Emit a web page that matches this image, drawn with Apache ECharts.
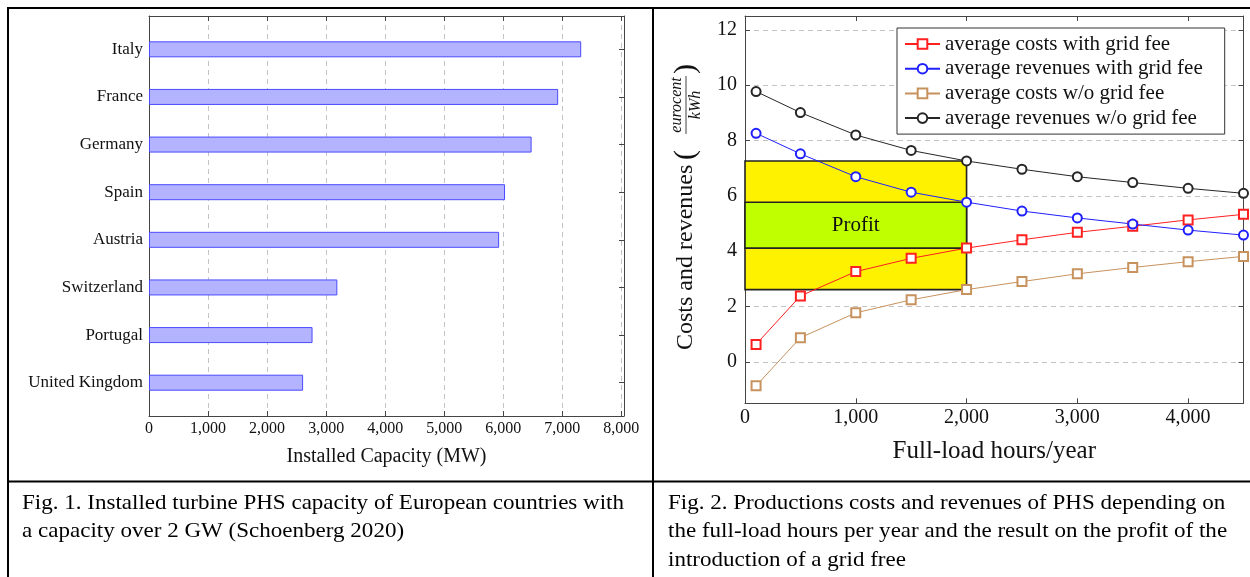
<!DOCTYPE html>
<html><head><meta charset="utf-8">
<script src="https://cdn.jsdelivr.net/npm/echarts@6/dist/echarts.min.js"></script>
<style>html,body{margin:0;padding:0;background:#fff}#c{width:1250px;height:577px}</style>
</head><body><div id="c"></div>
<script>
// ---- Fig. 1 data ----
const countries = ['Italy', 'France', 'Germany', 'Spain', 'Austria', 'Switzerland', 'Portugal', 'United Kingdom'];
const capacityMW = [7320, 6930, 6480, 6030, 5930, 3190, 2770, 2610];

// ---- Fig. 2 data ----
const hours = [100, 500, 1000, 1500, 2000, 2500, 3000, 3500, 4000, 4500];
const costsWithFee = [0.63, 2.38, 3.26, 3.74, 4.11, 4.41, 4.68, 4.90, 5.13, 5.33];
const revenuesWithFee = [8.26, 7.52, 6.69, 6.13, 5.77, 5.45, 5.20, 4.98, 4.76, 4.58];
const costsNoFee = [-0.87, 0.87, 1.77, 2.24, 2.61, 2.90, 3.18, 3.41, 3.62, 3.81];
const revenuesNoFee = [9.77, 9.01, 8.20, 7.64, 7.26, 6.96, 6.69, 6.48, 6.27, 6.09];
const seriesNames = ['average costs with grid fee', 'average revenues with grid fee', 'average costs w/o grid fee', 'average revenues w/o grid fee'];
const costTicks = [0, 2, 4, 6, 8, 10, 12];
const profitHours = 2000;
const profitLabel = 'Profit';

// ---- captions ----
const caption1 = ['Fig. 1. Installed turbine PHS capacity of European countries with', 'a capacity over 2 GW (Schoenberg 2020)'];
const caption2 = ['Fig. 2. Productions costs and revenues of PHS depending on', 'the full-load hours per year and the result on the profit of the', 'introduction of a grid free'];
const yTitle = 'Costs and revenues';
const yUnitNum = 'eurocent', yUnitDen = 'kWh';
const xTitle1 = 'Installed Capacity (MW)';
const xTitle2 = 'Full-load hours/year';

const SERIF = '"Liberation Serif", "Times New Roman", serif';
const frameColor = '#454545';
const fmt = v => Number(v).toLocaleString('en-US');
const pi = hours.indexOf(profitHours);

const chart = echarts.init(document.getElementById('c'), null, {renderer: 'canvas'});

const frameAxis = (extra) => Object.assign({
  axisLine: {show: true, onZero: false, lineStyle: {color: frameColor, width: 1}},
  axisTick: {show: false},
  axisLabel: {show: false},
  splitLine: {show: false}
}, extra);

const dashed = {show: true, lineStyle: {color: '#c4c4c4', width: 1, type: [5, 4]}};

function lineSeries(name, vals, color, symbol) {
  return {
    name, type: 'line', xAxisIndex: 3, yAxisIndex: 4, z: 3,
    data: hours.map((h, i) => [h, vals[i]]),
    symbol, symbolSize: 9, showAllSymbol: true,
    lineStyle: {color, width: 1},
    itemStyle: {color, borderColor: color, borderWidth: 1},
    emphasis: {disabled: true}
  };
}

const capFont = '21px ' + SERIF;
const capScale = 1.097;
const captionGraphics = [];
caption1.forEach((t, i) => captionGraphics.push({type: 'text', x: 22, y: 503 + i * 28, scaleX: capScale, style: {text: t, font: capFont, fill: '#000', verticalAlign: 'middle'}}));
caption2.forEach((t, i) => captionGraphics.push({type: 'text', x: 668, y: 503 + i * 28.5, scaleX: capScale, style: {text: t, font: capFont, fill: '#000', verticalAlign: 'middle'}}));

const option = {
  animation: false,
  backgroundColor: '#fff',
  textStyle: {fontFamily: SERIF},
  grid: [
    {left: 149, top: 16, width: 475, height: 400},
    {left: 149, top: 25.5, width: 475, height: 381},
    {left: 745, top: 16, width: 498.5, height: 387.3}
  ],
  xAxis: [
    frameAxis({gridIndex: 0, type: 'value', min: 0, max: 8045, interval: 1000, position: 'bottom',
      axisTick: {show: true, inside: true, length: 5, lineStyle: {color: frameColor}},
      axisLabel: {show: true, formatter: fmt, showMaxLabel: false, margin: 5, fontSize: 16, color: '#111', fontFamily: SERIF},
      splitLine: dashed,
      name: xTitle1, nameLocation: 'middle', nameGap: 31, nameTextStyle: {fontSize: 20, color: '#111', fontFamily: SERIF}}),
    frameAxis({gridIndex: 0, type: 'value', min: 0, max: 8045, interval: 1000, position: 'top',
      axisTick: {show: true, inside: true, length: 5, lineStyle: {color: frameColor}}}),
    {gridIndex: 1, type: 'value', min: 0, max: 8045, show: false},
    frameAxis({gridIndex: 2, type: 'value', min: 0, max: 4500, interval: 1000, position: 'bottom',
      axisTick: {show: true, inside: true, length: 5, lineStyle: {color: frameColor}},
      axisLabel: {show: true, formatter: fmt, showMaxLabel: false, margin: 4, fontSize: 20, color: '#111', fontFamily: SERIF},
      name: xTitle2, nameLocation: 'middle', nameGap: 36, nameTextStyle: {fontSize: 25, color: '#111', fontFamily: SERIF}}),
    frameAxis({gridIndex: 2, type: 'value', min: 0, max: 4500, interval: 1000, position: 'top',
      axisTick: {show: true, inside: true, length: 5, lineStyle: {color: frameColor}}})
  ],
  yAxis: [
    frameAxis({gridIndex: 0, type: 'value', min: 0, max: 1, position: 'left'}),
    frameAxis({gridIndex: 0, type: 'value', min: 0, max: 1, position: 'right'}),
    {gridIndex: 1, type: 'category', inverse: true, data: countries, position: 'left',
      axisLine: {show: false}, axisTick: {show: false},
      axisLabel: {margin: 6, fontSize: 17, color: '#111', fontFamily: SERIF}},
    {gridIndex: 1, type: 'category', inverse: true, data: countries, position: 'right',
      axisLine: {show: false}, axisLabel: {show: false},
      axisTick: {show: true, inside: true, length: 5, alignWithLabel: true, lineStyle: {color: frameColor}}},
    frameAxis({gridIndex: 2, type: 'value', min: -1.5, max: 12.5, position: 'left',
      axisTick: {show: true, inside: true, length: 5, customValues: costTicks, lineStyle: {color: frameColor}},
      axisLabel: {show: true, customValues: costTicks, margin: 8, fontSize: 20, color: '#111', fontFamily: SERIF},
      splitLine: dashed}),
    frameAxis({gridIndex: 2, type: 'value', min: -1.5, max: 12.5, position: 'right',
      axisTick: {show: true, inside: true, length: 5, customValues: costTicks, lineStyle: {color: frameColor}}})
  ],
  legend: {
    data: seriesNames,
    left: 897, top: 28, orient: 'vertical',
    itemWidth: 35, itemHeight: 12, itemGap: 2.7,
    padding: [5, 22, 5, 7],
    backgroundColor: '#fff', borderColor: '#333', borderWidth: 1,
    textStyle: {fontSize: 21, color: '#111', fontFamily: SERIF, lineHeight: 22},
    selectedMode: false
  },
  series: [
    {type: 'bar', xAxisIndex: 2, yAxisIndex: 2, data: capacityMW, barWidth: 16,
      itemStyle: {color: '#b3b3ff', borderColor: '#4b4bff', borderWidth: 1}, emphasis: {disabled: true}},
    {type: 'line', xAxisIndex: 3, yAxisIndex: 4, data: [], z: 1, silent: true,
      markArea: {silent: true, z: 1,
        data: [
          [{coord: [0, costsNoFee[pi]], itemStyle: {color: '#fff200', borderColor: '#222', borderWidth: 1.6}, label: {show: false}},
           {coord: [profitHours, revenuesNoFee[pi]]}],
          [{coord: [0, costsWithFee[pi]], name: profitLabel, itemStyle: {color: '#bfff00', borderColor: '#222', borderWidth: 1.6},
             label: {show: true, position: 'inside', fontSize: 21, color: '#111', fontFamily: SERIF}},
           {coord: [profitHours, revenuesWithFee[pi]]}]
        ]}},
    lineSeries(seriesNames[0], costsWithFee, '#ff2020', 'emptyRect'),
    lineSeries(seriesNames[1], revenuesWithFee, '#2020ff', 'emptyCircle'),
    lineSeries(seriesNames[2], costsNoFee, '#c8925e', 'emptyRect'),
    lineSeries(seriesNames[3], revenuesNoFee, '#262626', 'emptyCircle')
  ],
  graphic: [
    {type: 'line', shape: {x1: 7, y1: 8, x2: 1250, y2: 8}, style: {stroke: '#000', lineWidth: 2}},
    {type: 'line', shape: {x1: 8, y1: 7, x2: 8, y2: 577}, style: {stroke: '#000', lineWidth: 2}},
    {type: 'line', shape: {x1: 653, y1: 7, x2: 653, y2: 577}, style: {stroke: '#000', lineWidth: 2}},
    {type: 'line', shape: {x1: 7, y1: 481.5, x2: 1250, y2: 481.5}, style: {stroke: '#000', lineWidth: 2}},
    ...captionGraphics,
    {type: 'group', x: 686, y: 350, rotation: Math.PI / 2, children: [
      {type: 'text', x: 0, y: 0, style: {text: yTitle, font: '24px ' + SERIF, fill: '#111', verticalAlign: 'middle', align: 'left'}},
      {type: 'text', x: 190, y: 0, style: {text: '(', font: '30px ' + SERIF, fill: '#111', verticalAlign: 'middle', align: 'left'}},
      {type: 'text', x: 245, y: -9, style: {text: yUnitNum, font: 'italic 16px ' + SERIF, fill: '#111', verticalAlign: 'middle', align: 'center'}},
      {type: 'line', shape: {x1: 216, y1: 0, x2: 274, y2: 0}, style: {stroke: '#111', lineWidth: 0.8}},
      {type: 'text', x: 245, y: 10, style: {text: yUnitDen, font: 'italic 16px ' + SERIF, fill: '#111', verticalAlign: 'middle', align: 'center'}},
      {type: 'text', x: 276, y: 0, style: {text: ')', font: '30px ' + SERIF, fill: '#111', verticalAlign: 'middle', align: 'left'}}
    ]}
  ]
};
chart.setOption(option);
</script>
</body></html>
